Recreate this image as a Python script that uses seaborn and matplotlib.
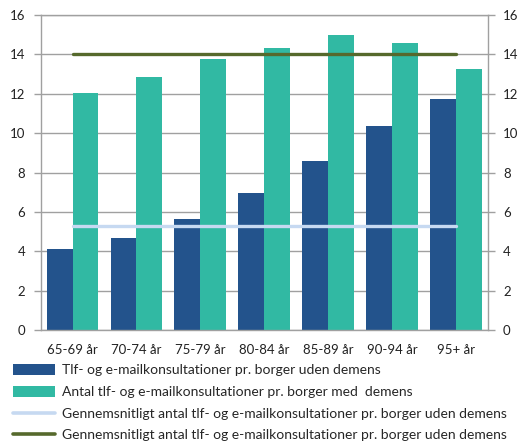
import numpy as np
import pandas as pd
import matplotlib
matplotlib.use("Agg")
import matplotlib.pyplot as plt
from matplotlib.patches import Patch
from matplotlib.lines import Line2D
from matplotlib.ticker import FixedLocator, MultipleLocator, NullFormatter
import seaborn as sns

# Age groups and consultations per citizen
age_groups = ["65-69 år", "70-74 år", "75-79 år", "80-84 år", "85-89 år", "90-94 år", "95+ år"]
uden_demens = [4.1, 4.66, 5.64, 6.96, 8.58, 10.38, 11.72]
med_demens = [12.02, 12.85, 13.75, 14.31, 14.98, 14.56, 13.26]
avg_uden = 5.3
avg_med = 14.02

label_uden = "Tlf- og e-mailkonsultationer pr. borger uden demens"
label_med = "Antal tlf- og e-mailkonsultationer pr. borger med  demens"
label_avg_uden = "Gennemsnitligt antal tlf- og e-mailkonsultationer pr. borger uden demens"
label_avg_med = "Gennemsnitligt antal tlf- og e-mailkonsultationer pr. borger uden demens"

c_blue = "#23538C"
c_teal = "#31B9A3"
c_light = "#C6D9F1"
c_olive = "#56692C"
c_grid = "#A0A0A0"

sns.set_theme(style="white")
plt.rcParams["font.family"] = ["Lato", "DejaVu Sans"]

df = pd.DataFrame({
    "age": age_groups * 2,
    "value": uden_demens + med_demens,
    "group": [label_uden] * len(age_groups) + [label_med] * len(age_groups),
})

fig = plt.figure(figsize=(5.23, 4.48), dpi=100)
ax = fig.add_axes([0.0778, 0.2634, 0.8547, 0.7031])

sns.barplot(data=df, x="age", y="value", hue="group", order=age_groups,
            hue_order=[label_uden, label_med], palette=[c_blue, c_teal],
            width=0.81, gap=0, saturation=1, legend=False, ax=ax,
            linewidth=0, zorder=2)

sns.lineplot(x=age_groups, y=[avg_uden] * len(age_groups), color=c_light,
             linewidth=2.4, ax=ax, zorder=3, sort=False)
sns.lineplot(x=age_groups, y=[avg_med] * len(age_groups), color=c_olive,
             linewidth=2.4, ax=ax, zorder=3, sort=False)

ax.set_xlim(-0.5, len(age_groups) - 0.5)
ax.set_ylim(0, 16)
ax.yaxis.set_major_locator(MultipleLocator(2))
ax.set_xlabel("")
ax.set_ylabel("")
ax.grid(axis="y", color=c_grid, linewidth=1.0, zorder=0)
ax.set_axisbelow(True)
for s in ax.spines.values():
    s.set_color(c_grid)
    s.set_linewidth(1.0)

ax.tick_params(axis="y", which="major", direction="out", length=5, width=1,
               color=c_grid, labelsize=9.5, labelcolor="#222222", pad=6)
ax.tick_params(axis="x", which="major", length=0, labelsize=9.5,
               labelcolor="#222222", pad=10)
ax.xaxis.set_minor_locator(FixedLocator(np.arange(-0.5, len(age_groups), 1.0)))
ax.xaxis.set_minor_formatter(NullFormatter())
ax.tick_params(axis="x", which="minor", direction="out", length=5, width=1,
               color=c_grid)

ax2 = ax.twinx()
ax2.set_ylim(0, 16)
ax2.yaxis.set_major_locator(MultipleLocator(2))
ax2.tick_params(axis="y", direction="out", length=5, width=1, color=c_grid,
                labelsize=9.5, labelcolor="#222222", pad=6)
for s in ax2.spines.values():
    s.set_visible(False)

handles = [
    Patch(facecolor=c_blue, edgecolor="none"),
    Patch(facecolor=c_teal, edgecolor="none"),
    Line2D([], [], color=c_light, linewidth=2.6),
    Line2D([], [], color=c_olive, linewidth=2.6),
]
labels = [label_uden, label_med, label_avg_uden, label_avg_med]
fig.legend(handles, labels, loc="upper left", bbox_to_anchor=(0.025, 0.188),
           frameon=False, fontsize=10, handlelength=3.05, handleheight=0.85,
           handletextpad=0.45, labelspacing=0.68, borderaxespad=0,
           borderpad=0)

fig.savefig("out.png", dpi=100)
